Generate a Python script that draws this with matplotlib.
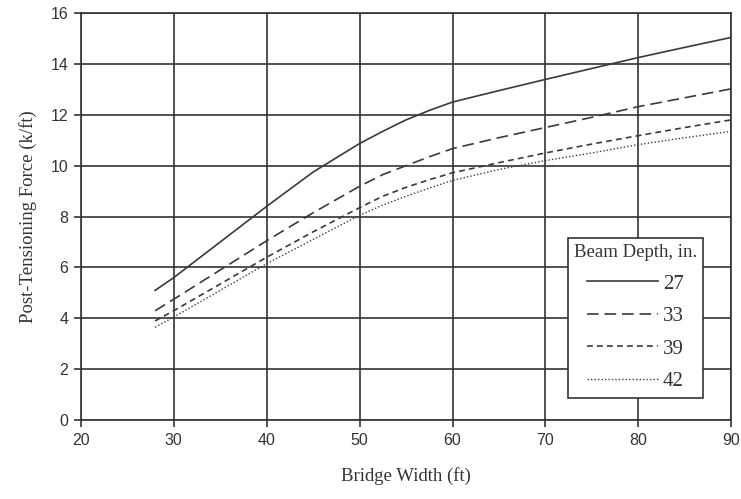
import numpy as np
import matplotlib.pyplot as plt

# values
width = [28, 30, 35, 40, 45, 50, 52.5, 55, 57.5, 60, 65, 70, 75, 80, 85, 90]
d27 = [5.1, 5.6, 7.0, 8.4, 9.75, 10.87, 11.35, 11.8, 12.17, 12.5, 12.95, 13.39, 13.82, 14.25, 14.65, 15.04]
d33 = [4.3, 4.75, 5.9, 7.05, 8.15, 9.19, 9.65, 10.0, 10.35, 10.67, 11.1, 11.5, 11.9, 12.32, 12.67, 13.02]
d39 = [3.9, 4.3, 5.35, 6.4, 7.4, 8.35, 8.8, 9.15, 9.45, 9.72, 10.12, 10.5, 10.85, 11.18, 11.5, 11.8]
d42 = [3.65, 4.05, 5.1, 6.15, 7.1, 8.05, 8.45, 8.8, 9.12, 9.42, 9.85, 10.2, 10.5, 10.83, 11.1, 11.35]
depths = ["27", "33", "39", "42"]

fig = plt.figure(figsize=(7.41, 4.99), dpi=100)
ax = fig.add_axes([0.109, 0.158, 0.878, 0.816])

c = "#3a3a3a"
ax.plot(width, d27, color=c, lw=1.2, ls="-", label=depths[0])
ax.plot(width, d33, color=c, lw=1.2, ls=(0, (7, 3.5)), label=depths[1])
ax.plot(width, d39, color=c, lw=1.2, ls=(0, (3.5, 2.5)), label=depths[2])
ax.plot(width, d42, color=c, lw=1.0, ls=(0, (1, 1.5)), label=depths[3])

ax.set_xlim(20, 90)
ax.set_ylim(0, 16)
ax.set_xticks(range(20, 91, 10))
ax.set_yticks(range(0, 17, 2))
ax.grid(True, color="#333333", lw=1.2)
for s in ax.spines.values():
    s.set_color("#333333")
    s.set_linewidth(1.2)
ax.tick_params(direction="out", length=5, width=1.2, color="#333333",
               labelsize=11.5, labelcolor="#333333", pad=4)
for t in ax.get_xticklabels() + ax.get_yticklabels():
    t.set_family("Liberation Sans")

ax.set_xlabel("Bridge Width (ft)", family="Liberation Serif", fontsize=13.5,
              color="#333333", labelpad=14)
ax.set_ylabel("Post-Tensioning Force (k/ft)", family="Liberation Serif", fontsize=13.5,
              color="#333333", labelpad=10)

leg = ax.legend(title="Beam Depth, in.", loc="lower right", bbox_to_anchor=(0.973, 0.03),
                prop={"family": "Liberation Serif", "size": 15}, markerfirst=True,
                handlelength=3.4, handletextpad=0.25, labelspacing=0.62,
                fancybox=False, framealpha=1, edgecolor="#333333", borderpad=0.3)
leg.get_title().set_family("Liberation Serif")
leg.get_title().set_fontsize(13.5)
leg.get_title().set_color("#333333")
leg.get_frame().set_linewidth(1.2)
for t in leg.get_texts():
    t.set_color("#333333")

fig.savefig("out.png", dpi=100)
